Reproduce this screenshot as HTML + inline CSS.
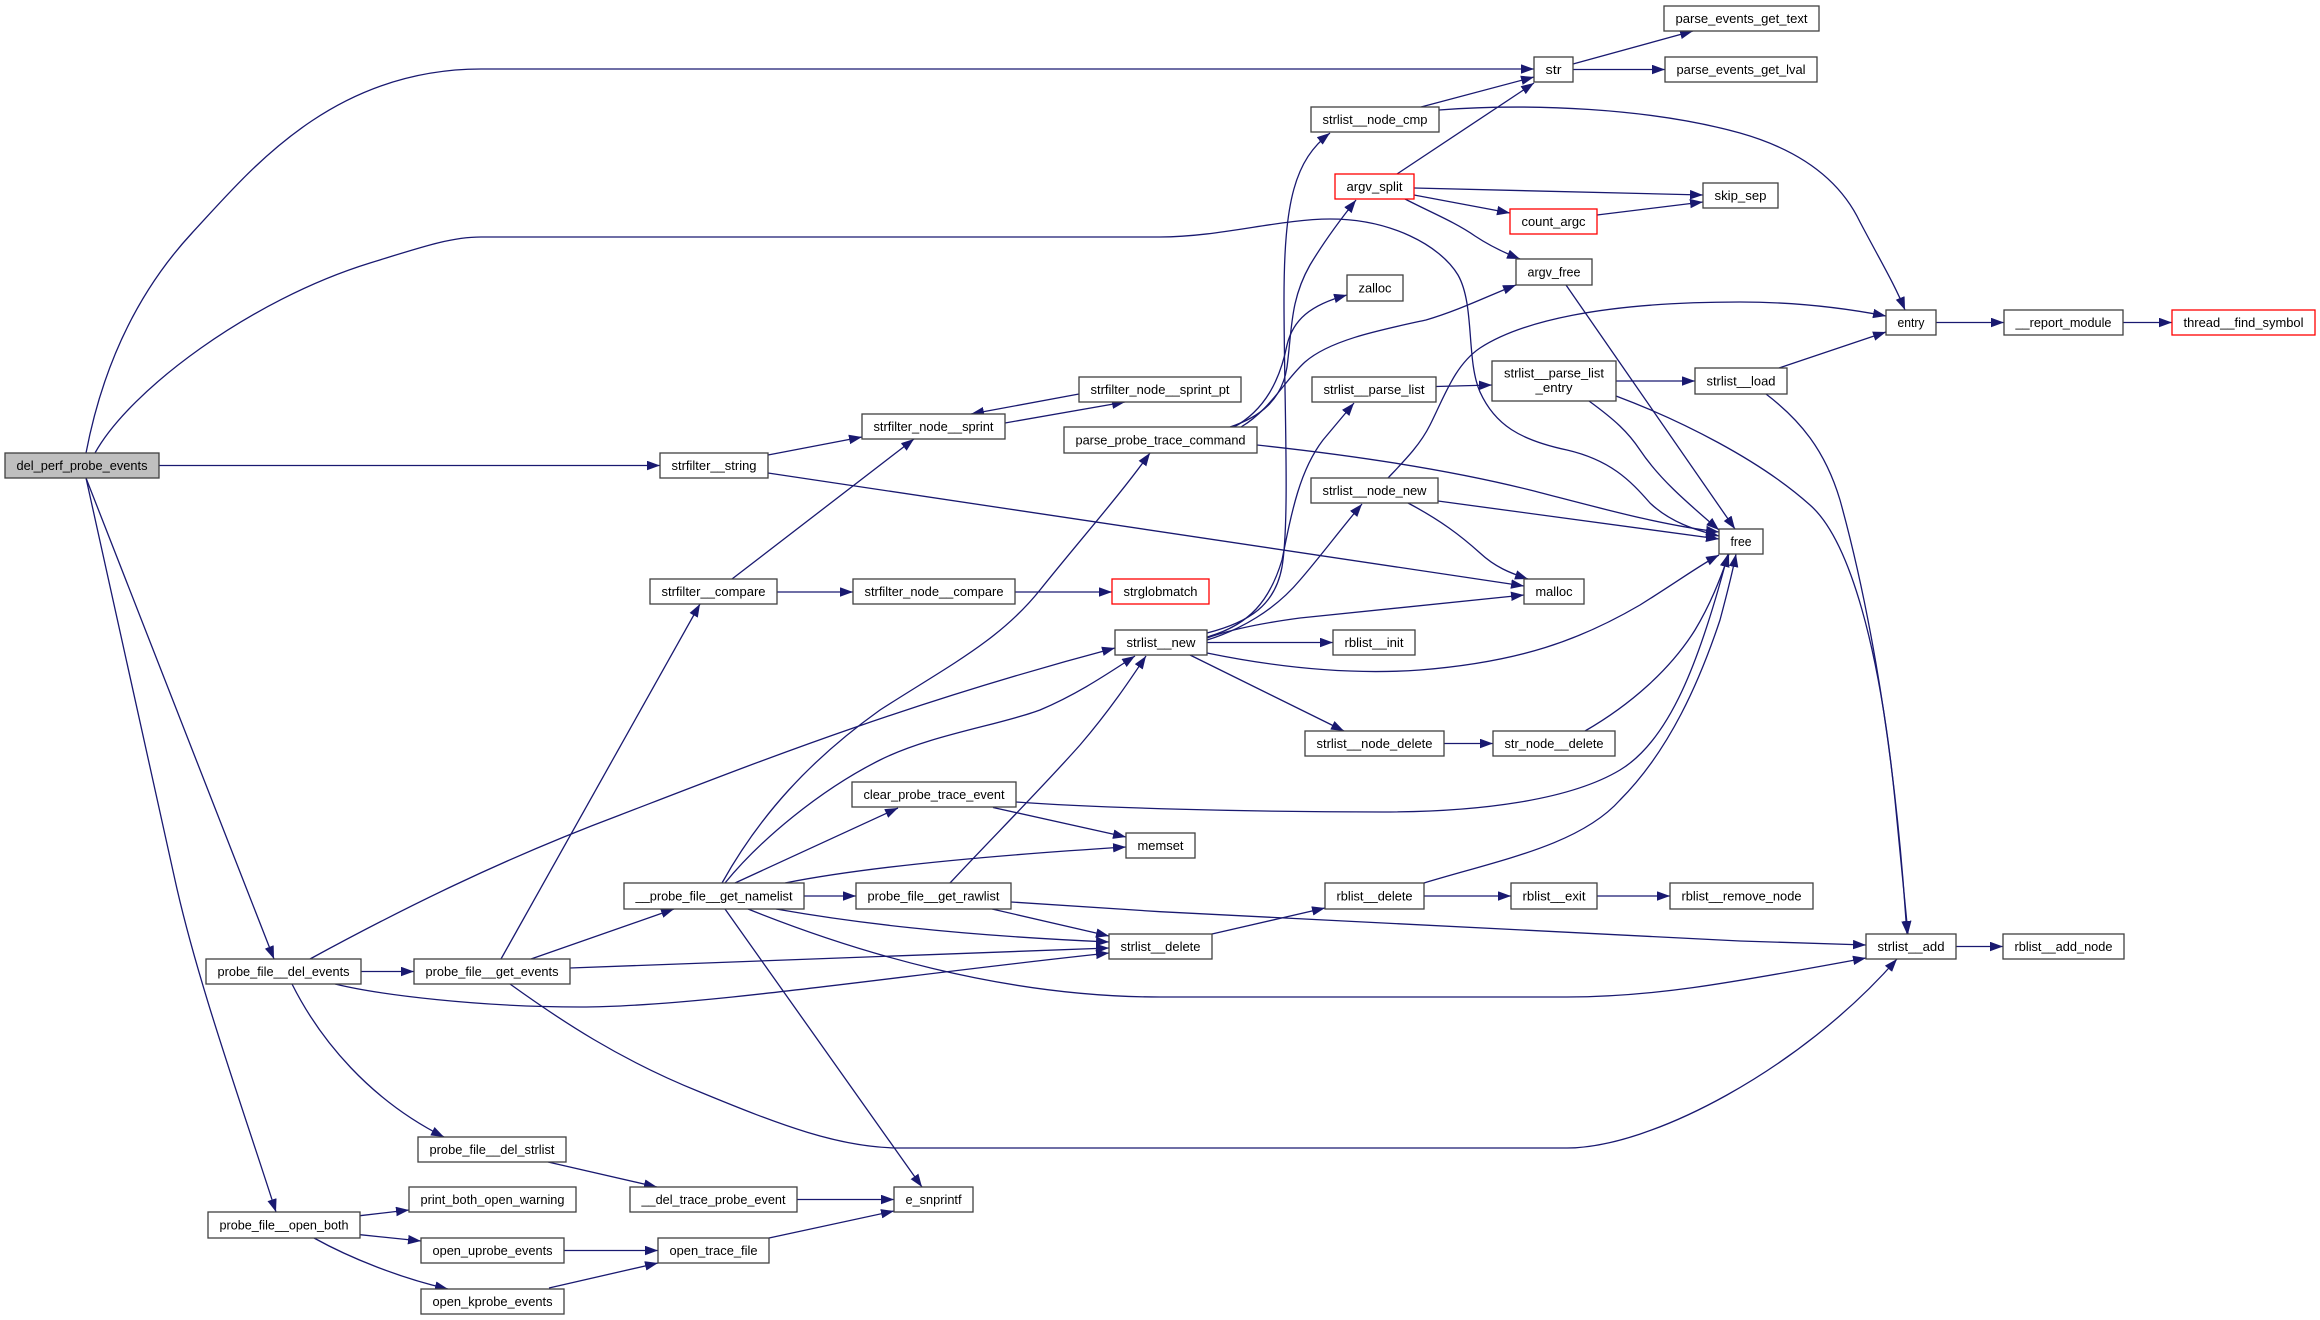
<!DOCTYPE html>
<html><head><meta charset="utf-8"><style>
html,body{margin:0;padding:0;background:#fff;}
svg{display:block;}
text{font-family:"Liberation Sans",Arial,sans-serif;font-size:13.3px;fill:#000;text-anchor:middle;}
.e{fill:none;stroke:#191970;stroke-width:1.3;}
.n{fill:#fff;stroke:#404040;stroke-width:1.3;}
.r{fill:#fff;stroke:#ff0000;stroke-width:1.3;}
.g{fill:#bfbfbf;stroke:#404040;stroke-width:1.3;}
</style></head><body>
<svg width="2320" height="1320" viewBox="0 0 2320 1320" xmlns="http://www.w3.org/2000/svg">
<defs><marker id="a" markerWidth="13" markerHeight="10" refX="13" refY="4.75" orient="auto" markerUnits="userSpaceOnUse"><path d="M0,0 L13,4.75 L0,9.5 z" fill="#191970"/></marker></defs>
<g class="edges">
<path class="e" marker-end="url(#a)" d="M86,453 C100,380 130,300 192,233 C248,173 330,69 481,69 L1534,69"/>
<path class="e" marker-end="url(#a)" d="M95,453 C130,390 250,300 370,263 C420,247.6 450,237 481,237 L1160,237 C1220,237 1280,219 1330,219 C1390,219 1440,245 1458,275 C1475,305 1466,360 1480,392 C1495,425 1520,440 1567,450 C1610,460 1630,480 1650,503 C1670,522 1695,530 1719,536"/>
<path class="e" marker-end="url(#a)" d="M159,465.5 L660,465.5"/>
<path class="e" marker-end="url(#a)" d="M86,478 L274,959"/>
<path class="e" marker-end="url(#a)" d="M86,478 L175,880 C197,980 240,1100 276,1212"/>
<path class="e" marker-end="url(#a)" d="M768,455 L862,437"/>
<path class="e" marker-end="url(#a)" d="M768,473 L1524,586"/>
<path class="e" marker-end="url(#a)" d="M732,579 L914,439"/>
<path class="e" marker-end="url(#a)" d="M777,592 L853,592"/>
<path class="e" marker-end="url(#a)" d="M1015,592 L1112,592"/>
<path class="e" marker-end="url(#a)" d="M501,959 L700,604"/>
<path class="e" marker-end="url(#a)" d="M1079,394 L971,414"/>
<path class="e" marker-end="url(#a)" d="M1005,423 L1125,402"/>
<path class="e" marker-end="url(#a)" d="M1573,64 L1693,31"/>
<path class="e" marker-end="url(#a)" d="M1573,69.5 L1665,69.5"/>
<path class="e" marker-end="url(#a)" d="M1421,107 L1534,77"/>
<path class="e" marker-end="url(#a)" d="M1439,110 C1530,103 1650,108 1740,133 C1800,150 1840,180 1860,222 C1880,260 1895,285 1905,310"/>
<path class="e" marker-end="url(#a)" d="M1397,174 L1534,83"/>
<path class="e" marker-end="url(#a)" d="M1414,188 L1703,195"/>
<path class="e" marker-end="url(#a)" d="M1414,195 L1510,213"/>
<path class="e" marker-end="url(#a)" d="M1597,215 L1703,202"/>
<path class="e" marker-end="url(#a)" d="M1405,199 C1430,212 1455,222 1475,236 C1490,246 1505,253 1520,259"/>
<path class="e" marker-end="url(#a)" d="M1566,285 L1735,529"/>
<path class="e" marker-end="url(#a)" d="M1230,427 C1260,417 1282,400 1287,367 C1292,330 1290,300 1310,265 C1325,240 1340,220 1356,200"/>
<path class="e" marker-end="url(#a)" d="M1234,427 C1265,410 1280,380 1287,345 C1293,320 1310,305 1347,295"/>
<path class="e" marker-end="url(#a)" d="M1241,427 C1270,410 1285,380 1305,362 C1330,340 1380,330 1426,320 C1460,310 1490,295 1516,285"/>
<path class="e" marker-end="url(#a)" d="M1257,445 C1350,455 1450,470 1530,490 C1600,508 1660,525 1719,532"/>
<path class="e" marker-end="url(#a)" d="M1207,633 C1250,622 1275,605 1282,567 C1290,520 1284,400 1284,300 C1284,200 1295,160 1330,133"/>
<path class="e" marker-end="url(#a)" d="M1207,637 C1250,625 1270,600 1282,560 C1292,510 1300,470 1323,440 L1354,403"/>
<path class="e" marker-end="url(#a)" d="M1207,640 C1240,630 1275,610 1300,580 C1320,557 1340,530 1362,504"/>
<path class="e" marker-end="url(#a)" d="M1207,638 Q1240,626 1300,618 L1524,595"/>
<path class="e" marker-end="url(#a)" d="M1207,642.5 L1333,642.5"/>
<path class="e" marker-end="url(#a)" d="M1207,653 C1280,668 1350,675 1420,670 C1520,662 1580,640 1640,605 C1680,580 1700,565 1719,555"/>
<path class="e" marker-end="url(#a)" d="M1190,655 L1344,731"/>
<path class="e" marker-end="url(#a)" d="M1444,743.5 L1493,743.5"/>
<path class="e" marker-end="url(#a)" d="M1585,731 C1630,705 1670,670 1695,630 C1710,605 1720,580 1729,554"/>
<path class="e" marker-end="url(#a)" d="M1388,478 C1405,460 1420,445 1430,425 C1445,395 1455,365 1480,348 C1520,322 1600,302 1740,302 C1800,302 1850,309 1886,316"/>
<path class="e" marker-end="url(#a)" d="M1438,501 L1719,539"/>
<path class="e" marker-end="url(#a)" d="M1408,503 C1440,520 1460,535 1480,553 C1495,567 1510,573 1528,579"/>
<path class="e" marker-end="url(#a)" d="M1436,386.5 L1492,385"/>
<path class="e" marker-end="url(#a)" d="M1616,381 L1695,381"/>
<path class="e" marker-end="url(#a)" d="M1589,401 C1615,420 1628,432 1640,450 C1660,480 1690,505 1719,530"/>
<path class="e" marker-end="url(#a)" d="M1616,396 C1680,420 1760,460 1810,505 C1850,540 1880,650 1895,800 L1908,934"/>
<path class="e" marker-end="url(#a)" d="M1779,368 L1886,332"/>
<path class="e" marker-end="url(#a)" d="M1766,394 C1800,420 1825,450 1840,500 C1865,590 1890,720 1903,880 L1907,934"/>
<path class="e" marker-end="url(#a)" d="M1936,322.5 L2004,322.5"/>
<path class="e" marker-end="url(#a)" d="M2123,322.5 L2172,322.5"/>
<path class="e" marker-end="url(#a)" d="M1212,934 L1325,908"/>
<path class="e" marker-end="url(#a)" d="M1424,883 C1500,860 1580,845 1620,800 C1670,750 1700,680 1720,620 C1728,590 1733,570 1736,554"/>
<path class="e" marker-end="url(#a)" d="M1424,896 L1511,896"/>
<path class="e" marker-end="url(#a)" d="M1597,896 L1670,896"/>
<path class="e" marker-end="url(#a)" d="M1956,946.5 L2003,946.5"/>
<path class="e" marker-end="url(#a)" d="M1011,902 Q1100,908 1160,911.7 L1740,941 L1866,945"/>
<path class="e" marker-end="url(#a)" d="M950,883 C990,840 1040,790 1080,745 C1110,710 1130,680 1146,656"/>
<path class="e" marker-end="url(#a)" d="M992,909 L1109,936"/>
<path class="e" marker-end="url(#a)" d="M804,896 L856,896"/>
<path class="e" marker-end="url(#a)" d="M776,909 C850,922 950,935 1109,942"/>
<path class="e" marker-end="url(#a)" d="M748,909 C850,950 1000,997 1160,997 L1567,997 C1650,997 1720,985 1866,958"/>
<path class="e" marker-end="url(#a)" d="M725,909 L922,1187"/>
<path class="e" marker-end="url(#a)" d="M735,883 L898,808"/>
<path class="e" marker-end="url(#a)" d="M785,883 C850,870 950,858 1126,847"/>
<path class="e" marker-end="url(#a)" d="M725,883 C760,840 820,790 880,760 C930,735 1000,725 1040,710 C1080,693 1110,672 1135,656"/>
<path class="e" marker-end="url(#a)" d="M722,883 C760,815 810,760 880,710 C950,665 1000,640 1040,590 C1080,540 1120,495 1150,453"/>
<path class="e" marker-end="url(#a)" d="M993,807.5 L1126,837"/>
<path class="e" marker-end="url(#a)" d="M1016,802 C1100,808 1250,812 1382,812 C1480,812 1570,800 1620,770 C1670,740 1700,660 1728,554"/>
<path class="e" marker-end="url(#a)" d="M361,971.5 L414,971.5"/>
<path class="e" marker-end="url(#a)" d="M310,959 C400,910 500,860 620,815 C750,765 900,705 1115,648"/>
<path class="e" marker-end="url(#a)" d="M335,984 C380,995 480,1007 580,1007 C700,1007 900,975 1109,953"/>
<path class="e" marker-end="url(#a)" d="M292,984 C320,1040 370,1100 444,1137"/>
<path class="e" marker-end="url(#a)" d="M531,959 L674,909"/>
<path class="e" marker-end="url(#a)" d="M570,968 L1109,948"/>
<path class="e" marker-end="url(#a)" d="M510,984 C560,1020 620,1060 700,1092 C780,1125 840,1148 900,1148 L1567,1148 C1650,1148 1800,1070 1897,959"/>
<path class="e" marker-end="url(#a)" d="M548,1162 L657,1187"/>
<path class="e" marker-end="url(#a)" d="M797,1199.5 L894,1199.5"/>
<path class="e" marker-end="url(#a)" d="M769,1238 L894,1211"/>
<path class="e" marker-end="url(#a)" d="M360,1215.7 L409,1210"/>
<path class="e" marker-end="url(#a)" d="M360,1234.7 L421,1241"/>
<path class="e" marker-end="url(#a)" d="M314,1238 C350,1258 400,1278 448,1289"/>
<path class="e" marker-end="url(#a)" d="M564,1250.5 L658,1250.5"/>
<path class="e" marker-end="url(#a)" d="M549,1288 L658,1263"/>
</g>
<g class="nodes">
<rect class="g" x="5" y="453" width="154" height="25"/><text x="82" y="470" textLength="131" lengthAdjust="spacingAndGlyphs">del_perf_probe_events</text>
<rect class="n" x="660" y="453" width="108" height="25"/><text x="714" y="470" textLength="85" lengthAdjust="spacingAndGlyphs">strfilter__string</text>
<rect class="n" x="650" y="579" width="127" height="25"/><text x="713.5" y="596" textLength="104" lengthAdjust="spacingAndGlyphs">strfilter__compare</text>
<rect class="n" x="853" y="579" width="162" height="25"/><text x="934" y="596" textLength="139" lengthAdjust="spacingAndGlyphs">strfilter_node__compare</text>
<rect class="r" x="1112" y="579" width="97" height="25"/><text x="1160.5" y="596" textLength="74" lengthAdjust="spacingAndGlyphs">strglobmatch</text>
<rect class="n" x="1115" y="630" width="92" height="25"/><text x="1161" y="647" textLength="69" lengthAdjust="spacingAndGlyphs">strlist__new</text>
<rect class="n" x="852" y="782" width="164" height="25"/><text x="934" y="799" textLength="141" lengthAdjust="spacingAndGlyphs">clear_probe_trace_event</text>
<rect class="n" x="1126" y="833" width="69" height="25"/><text x="1160.5" y="850" textLength="46" lengthAdjust="spacingAndGlyphs">memset</text>
<rect class="n" x="1064" y="427" width="193" height="26"/><text x="1160.5" y="444.5" textLength="170" lengthAdjust="spacingAndGlyphs">parse_probe_trace_command</text>
<rect class="n" x="862" y="414" width="143" height="25"/><text x="933.5" y="431" textLength="120" lengthAdjust="spacingAndGlyphs">strfilter_node__sprint</text>
<rect class="n" x="1079" y="377" width="162" height="25"/><text x="1160" y="394" textLength="139" lengthAdjust="spacingAndGlyphs">strfilter_node__sprint_pt</text>
<rect class="n" x="1664" y="6" width="155" height="25"/><text x="1741.5" y="23" textLength="132" lengthAdjust="spacingAndGlyphs">parse_events_get_text</text>
<rect class="n" x="1534" y="57" width="39" height="25"/><text x="1553.5" y="74" textLength="16" lengthAdjust="spacingAndGlyphs">str</text>
<rect class="n" x="1665" y="57" width="152" height="25"/><text x="1741" y="74" textLength="129" lengthAdjust="spacingAndGlyphs">parse_events_get_lval</text>
<rect class="n" x="1311" y="107" width="128" height="25"/><text x="1375" y="124" textLength="105" lengthAdjust="spacingAndGlyphs">strlist__node_cmp</text>
<rect class="r" x="1335" y="174" width="79" height="25"/><text x="1374.5" y="191" textLength="56" lengthAdjust="spacingAndGlyphs">argv_split</text>
<rect class="n" x="1703" y="183" width="75" height="25"/><text x="1740.5" y="200" textLength="52" lengthAdjust="spacingAndGlyphs">skip_sep</text>
<rect class="r" x="1510" y="209" width="87" height="25"/><text x="1553.5" y="226" textLength="64" lengthAdjust="spacingAndGlyphs">count_argc</text>
<rect class="n" x="1516" y="259" width="76" height="26"/><text x="1554" y="276.5" textLength="53" lengthAdjust="spacingAndGlyphs">argv_free</text>
<rect class="n" x="1347" y="275" width="56" height="26"/><text x="1375" y="292.5" textLength="33" lengthAdjust="spacingAndGlyphs">zalloc</text>
<rect class="n" x="1312" y="377" width="124" height="25"/><text x="1374" y="394" textLength="101" lengthAdjust="spacingAndGlyphs">strlist__parse_list</text>
<rect class="n" x="1492" y="361" width="124" height="40"/><text x="1554" y="377.5" textLength="100" lengthAdjust="spacingAndGlyphs">strlist__parse_list</text><text x="1554" y="392">_entry</text>
<rect class="n" x="1695" y="368" width="92" height="26"/><text x="1741" y="385.5" textLength="69" lengthAdjust="spacingAndGlyphs">strlist__load</text>
<rect class="n" x="1886" y="310" width="50" height="25"/><text x="1911" y="327" textLength="27" lengthAdjust="spacingAndGlyphs">entry</text>
<rect class="n" x="2004" y="310" width="119" height="25"/><text x="2063.5" y="327" textLength="96" lengthAdjust="spacingAndGlyphs">__report_module</text>
<rect class="r" x="2172" y="310" width="143" height="25"/><text x="2243.5" y="327" textLength="120" lengthAdjust="spacingAndGlyphs">thread__find_symbol</text>
<rect class="n" x="1311" y="478" width="127" height="25"/><text x="1374.5" y="495" textLength="104" lengthAdjust="spacingAndGlyphs">strlist__node_new</text>
<rect class="n" x="1719" y="529" width="44" height="25"/><text x="1741" y="546" textLength="21" lengthAdjust="spacingAndGlyphs">free</text>
<rect class="n" x="1524" y="579" width="60" height="25"/><text x="1554" y="596" textLength="37" lengthAdjust="spacingAndGlyphs">malloc</text>
<rect class="n" x="1333" y="630" width="82" height="25"/><text x="1374" y="647" textLength="59" lengthAdjust="spacingAndGlyphs">rblist__init</text>
<rect class="n" x="1305" y="731" width="139" height="25"/><text x="1374.5" y="748" textLength="116" lengthAdjust="spacingAndGlyphs">strlist__node_delete</text>
<rect class="n" x="1493" y="731" width="122" height="25"/><text x="1554" y="748" textLength="99" lengthAdjust="spacingAndGlyphs">str_node__delete</text>
<rect class="n" x="206" y="959" width="155" height="25"/><text x="283.5" y="976" textLength="132" lengthAdjust="spacingAndGlyphs">probe_file__del_events</text>
<rect class="n" x="414" y="959" width="156" height="25"/><text x="492" y="976" textLength="133" lengthAdjust="spacingAndGlyphs">probe_file__get_events</text>
<rect class="n" x="418" y="1137" width="148" height="25"/><text x="492" y="1154" textLength="125" lengthAdjust="spacingAndGlyphs">probe_file__del_strlist</text>
<rect class="n" x="409" y="1187" width="167" height="25"/><text x="492.5" y="1204" textLength="144" lengthAdjust="spacingAndGlyphs">print_both_open_warning</text>
<rect class="n" x="208" y="1212" width="152" height="26"/><text x="284" y="1229.5" textLength="129" lengthAdjust="spacingAndGlyphs">probe_file__open_both</text>
<rect class="n" x="421" y="1238" width="143" height="25"/><text x="492.5" y="1255" textLength="120" lengthAdjust="spacingAndGlyphs">open_uprobe_events</text>
<rect class="n" x="421" y="1289" width="143" height="25"/><text x="492.5" y="1306" textLength="120" lengthAdjust="spacingAndGlyphs">open_kprobe_events</text>
<rect class="n" x="624" y="883" width="180" height="26"/><text x="714" y="900.5" textLength="157" lengthAdjust="spacingAndGlyphs">__probe_file__get_namelist</text>
<rect class="n" x="856" y="883" width="155" height="26"/><text x="933.5" y="900.5" textLength="132" lengthAdjust="spacingAndGlyphs">probe_file__get_rawlist</text>
<rect class="n" x="1109" y="934" width="103" height="25"/><text x="1160.5" y="951" textLength="80" lengthAdjust="spacingAndGlyphs">strlist__delete</text>
<rect class="n" x="630" y="1187" width="167" height="25"/><text x="713.5" y="1204" textLength="144" lengthAdjust="spacingAndGlyphs">__del_trace_probe_event</text>
<rect class="n" x="894" y="1187" width="79" height="25"/><text x="933.5" y="1204" textLength="56" lengthAdjust="spacingAndGlyphs">e_snprintf</text>
<rect class="n" x="658" y="1238" width="111" height="25"/><text x="713.5" y="1255" textLength="88" lengthAdjust="spacingAndGlyphs">open_trace_file</text>
<rect class="n" x="1325" y="883" width="99" height="26"/><text x="1374.5" y="900.5" textLength="76" lengthAdjust="spacingAndGlyphs">rblist__delete</text>
<rect class="n" x="1511" y="883" width="86" height="26"/><text x="1554" y="900.5" textLength="63" lengthAdjust="spacingAndGlyphs">rblist__exit</text>
<rect class="n" x="1670" y="883" width="143" height="26"/><text x="1741.5" y="900.5" textLength="120" lengthAdjust="spacingAndGlyphs">rblist__remove_node</text>
<rect class="n" x="1866" y="934" width="90" height="25"/><text x="1911" y="951" textLength="67" lengthAdjust="spacingAndGlyphs">strlist__add</text>
<rect class="n" x="2003" y="934" width="121" height="25"/><text x="2063.5" y="951" textLength="98" lengthAdjust="spacingAndGlyphs">rblist__add_node</text>
</g>
</svg>
</body></html>
